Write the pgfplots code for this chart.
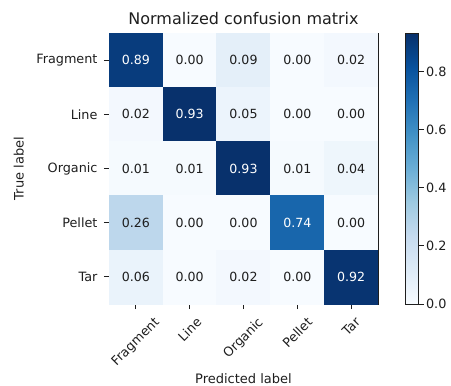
\documentclass[border=0pt]{standalone}
\usepackage{fontspec}
\setmainfont{DejaVu Sans}
\usepackage{graphicx}
\usepackage{pgfplots}
\usepackage{pgfplotstable}
\pgfplotsset{compat=1.18}
\definecolor{txt}{RGB}{30,30,30}

\pgfplotstableread{
x y z
0 0 0.89
1 0 0.00
2 0 0.09
3 0 0.00
4 0 0.02
0 1 0.02
1 1 0.93
2 1 0.05
3 1 0.00
4 1 0.00
0 2 0.01
1 2 0.01
2 2 0.93
3 2 0.01
4 2 0.04
0 3 0.26
1 3 0.00
2 3 0.00
3 3 0.74
4 3 0.00
0 4 0.06
1 4 0.00
2 4 0.02
3 4 0.00
4 4 0.92
}\cm

\pgfplotstableread{
x y lab
0 0 0.89
1 1 0.93
2 2 0.93
3 3 0.74
4 4 0.92
}\cmhi

\pgfplotstableread{
x y lab
1 0 0.00
2 0 0.09
3 0 0.00
4 0 0.02
0 1 0.02
2 1 0.05
3 1 0.00
4 1 0.00
0 2 0.01
1 2 0.01
3 2 0.01
4 2 0.04
0 3 0.26
1 3 0.00
2 3 0.00
4 3 0.00
0 4 0.06
1 4 0.00
2 4 0.02
3 4 0.00
}\cmlo

\begin{document}
\begin{tikzpicture}
\useasboundingbox (0,0) rectangle (451pt,386pt);
\begin{axis}[
  at={(109pt,82pt)}, anchor=south west,
  scale only axis, width=269pt, height=271pt,
  xmin=-0.5, xmax=4.5, ymin=-0.5, ymax=4.5, y dir=reverse,
  enlargelimits=false,
  xtick={0,1,2,3,4}, ytick={0,1,2,3,4},
  xticklabels={\rotatebox{45}{Fragment},\rotatebox{45}{Line},\rotatebox{45}{Organic},\rotatebox{45}{Pellet},\rotatebox{45}{Tar}},
  yticklabels={Fragment,Line,Organic,Pellet,Tar},
  tick align=outside, major tick length=5pt,
  xtick pos=bottom, ytick pos=left,
  tick style={txt, line width=0.9pt},
  axis line style={txt, line width=0.9pt},
  tick label style={font=\fontsize{12.8}{15}\selectfont, text=txt},
  xticklabel style={anchor=north, yshift=-4pt},
  yticklabel style={xshift=-3pt},
  title={Normalized confusion matrix},
  title style={font=\fontsize{16}{19}\selectfont, text=txt, at={(axis description cs:0.5,1)}, anchor=south, yshift=-1pt},
  xlabel={Predicted label}, ylabel={True label},
  label style={font=\fontsize{13}{15}\selectfont, text=txt},
  xlabel style={at={(axis description cs:0.5,-0.277)}, anchor=center},
  ylabel style={at={(axis description cs:-0.335,0.5)}, anchor=center, rotate=0},
  colormap={blues}{rgb255=(247,251,255) rgb255=(222,235,247) rgb255=(198,219,239) rgb255=(158,202,225) rgb255=(107,174,214) rgb255=(66,146,198) rgb255=(33,113,181) rgb255=(8,81,156) rgb255=(8,48,107)},
  point meta min=0, point meta max=0.933,
  colorbar,
  colorbar style={
    at={(parent axis.north east)}, anchor=north west, xshift=19pt,
    scale only axis, width=13pt, height=271pt,
    ytick={0,0.2,0.4,0.6,0.8},
    yticklabel style={/pgf/number format/fixed, /pgf/number format/precision=1, /pgf/number format/fixed zerofill, /pgf/number format/assume math mode=true, font=\fontsize{12.8}{15}\selectfont, text=txt, xshift=-1pt},
    tick align=outside, major tick length=5pt,
    ytick pos=right,
    tick style={txt, line width=0.9pt},
    axis line style={txt, line width=0.9pt},
  },
]
\addplot[matrix plot*, mesh/cols=5, point meta=explicit] table[x=x, y=y, meta=z] {\cm};
\addplot[draw=none, nodes near coords, point meta=explicit symbolic,
  every node near coord/.style={anchor=center, text=white, font=\fontsize{12.6}{15}\selectfont}]
  table[x=x, y=y, meta=lab] {\cmhi};
\addplot[draw=none, nodes near coords, point meta=explicit symbolic,
  every node near coord/.style={anchor=center, text=txt, font=\fontsize{12.6}{15}\selectfont}]
  table[x=x, y=y, meta=lab] {\cmlo};
\end{axis}
\end{tikzpicture}
\end{document}
